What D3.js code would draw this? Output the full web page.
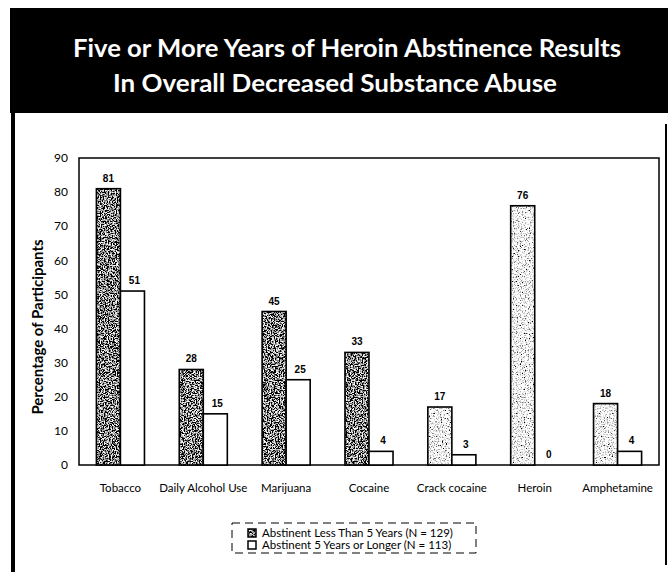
<!DOCTYPE html>
<html>
<head>
<meta charset="utf-8">
<title>Heroin Abstinence</title>
<script src="https://d3js.org/d3.v7.min.js"></script>
<style>
    body { margin: 0; background: #fff; }
    svg { display: block; }
    .title { font: bold 25px Lato, "Open Sans", sans-serif; fill: #fff; text-anchor: middle; }
    .tick-label { font: 12px Lato, sans-serif; fill: #000; text-anchor: end; }
    .cat-label { font: 11.5px Lato, sans-serif; fill: #000; text-anchor: middle; }
    .val-label { font: bold 10px "Liberation Sans", Arial, sans-serif; fill: #000; text-anchor: middle; }
    .y-title { font: bold 15px Lato, sans-serif; fill: #000; text-anchor: middle; }
    .legend text { font: 11.5px Lato, sans-serif; fill: #000; }
</style>
</head>
<body>
<svg width="668" height="572"></svg>
<script>
    // data
    var categories = ["Tobacco", "Daily Alcohol Use", "Marijuana", "Cocaine", "Crack cocaine", "Heroin", "Amphetamine"];
    var lessThan5 = [81, 28, 45, 33, 17, 76, 18];
    var fiveOrMore = [51, 15, 25, 4, 3, 0, 4];
    // texture of the first series: dark for the first four drugs, light for the rest
    var lessThan5Shade = ["dark", "dark", "dark", "dark", "light", "light", "light"];
    var seriesNames = ["Abstinent Less Than 5 Years (N = 129)", "Abstinent 5 Years or Longer (N = 113)"];
    var yTicks = [0, 10, 20, 30, 40, 50, 60, 70, 80, 90];
    var titleLines = ["Five or More Years of Heroin Abstinence Results", "In Overall Decreased Substance Abuse"];

    var svg = d3.select("svg");

    // stipple textures
    var defs = svg.append("defs");
    function stipple(id, slope, offset, seed) {
        var f = defs.append("filter").attr("id", id)
            .attr("x", 0).attr("y", 0).attr("width", 1).attr("height", 1);
        f.append("feTurbulence").attr("type", "fractalNoise")
            .attr("baseFrequency", 0.75).attr("numOctaves", 3).attr("seed", seed)
            .attr("result", "noise");
        var m = [slope, 0, 0, 0, offset,
                 slope, 0, 0, 0, offset,
                 slope, 0, 0, 0, offset,
                 0, 0, 0, 0, 1].join(" ");
        f.append("feColorMatrix").attr("in", "noise").attr("type", "matrix")
            .attr("values", m).attr("result", "gray");
        f.append("feComposite").attr("in", "gray").attr("in2", "SourceGraphic")
            .attr("operator", "in");
    }
    stipple("dark", 4.5, -2.0, 4);
    stipple("light", 3.5, -0.8, 9);

    // frame and title band
    svg.append("rect").attr("x", 10).attr("y", 8).attr("width", 658).attr("height", 105).attr("fill", "#000");
    svg.append("rect").attr("x", 11).attr("y", 113).attr("width", 4).attr("height", 459).attr("fill", "#000");
    svg.append("rect").attr("x", 665).attr("y", 124).attr("width", 2).attr("height", 441).attr("fill", "#000");

    svg.selectAll(".title").data(titleLines).enter().append("text")
        .attr("class", "title")
        .attr("x", function (d, i) { return i === 0 ? 347 : 335; })
        .attr("y", function (d, i) { return 57 + i * 35; })
        .attr("textLength", function (d, i) { return i === 0 ? 548 : 444; })
        .attr("lengthAdjust", "spacingAndGlyphs")
        .text(function (d) { return d; });

    // plot area
    var plotL = 79, plotR = 659, plotT = 158, plotB = 465;

    var x0 = d3.scaleBand().domain(categories).range([plotL, plotR])
        .paddingInner(0.42).paddingOuter(0.21);
    var x1 = d3.scaleBand().domain([0, 1]).range([0, x0.bandwidth()]);
    var y = d3.scaleLinear().domain([0, 90]).range([plotB, plotT]);

    svg.append("rect").attr("x", plotL).attr("y", plotT)
        .attr("width", plotR - plotL).attr("height", plotB - plotT)
        .attr("fill", "none").attr("stroke", "#000").attr("stroke-width", 1.5);

    svg.selectAll(".tick-label").data(yTicks).enter().append("text")
        .attr("class", "tick-label")
        .attr("x", 68)
        .attr("y", function (d) { return y(d); })
        .attr("dy", "0.35em")
        .text(function (d) { return d; });

    svg.append("text").attr("class", "y-title")
        .attr("transform", "translate(43,327) rotate(-90)")
        .text("Percentage of Participants");

    svg.selectAll(".cat-label").data(categories).enter().append("text")
        .attr("class", "cat-label")
        .attr("x", function (d) { return x0(d) + x0.bandwidth() / 2; })
        .attr("y", 492)
        .text(function (d) { return d; });

    var rows = categories.map(function (c, i) {
        return { cat: c, values: [lessThan5[i], fiveOrMore[i]], shade: lessThan5Shade[i] };
    });

    var group = svg.selectAll(".grp").data(rows).enter().append("g")
        .attr("class", "grp")
        .attr("transform", function (d) { return "translate(" + x0(d.cat) + ",0)"; });

    group.each(function (d) {
        var g = d3.select(this);
        d.values.forEach(function (v, s) {
            var bx = x1(s), by = y(v), bw = x1.bandwidth(), bh = y(0) - y(v);
            if (bh > 0) {
                if (s === 0) {
                    g.append("rect").attr("x", bx).attr("y", by).attr("width", bw).attr("height", bh)
                        .attr("fill", "#000").attr("filter", "url(#" + d.shade + ")");
                }
                g.append("rect").attr("x", bx).attr("y", by).attr("width", bw).attr("height", bh)
                    .attr("fill", s === 0 ? "none" : "#fff")
                    .attr("stroke", "#000").attr("stroke-width", 1.6);
            }
            g.append("text").attr("class", "val-label")
                .attr("x", bx + bw / 2 + (s === 1 ? 2 : 0))
                .attr("y", by - 7)
                .text(v);
        });
    });

    // legend
    var legend = svg.append("g").attr("class", "legend");
    legend.append("rect").attr("x", 232).attr("y", 523).attr("width", 244).attr("height", 30)
        .attr("fill", "none").attr("stroke", "#000").attr("stroke-width", 1)
        .attr("stroke-dasharray", "8,5");
    seriesNames.forEach(function (name, i) {
        var ly = 533 + i * 12;
        if (i === 0) {
            legend.append("rect").attr("x", 248).attr("y", ly - 4).attr("width", 8).attr("height", 8)
                .attr("fill", "#000").attr("filter", "url(#dark)");
        }
        legend.append("rect").attr("x", 248).attr("y", ly - 4).attr("width", 8).attr("height", 8)
            .attr("fill", i === 0 ? "none" : "#fff").attr("stroke", "#000").attr("stroke-width", 1.5);
        legend.append("text").attr("x", 262).attr("y", ly).attr("dy", "0.35em").text(name);
    });
</script>
</body>
</html>
